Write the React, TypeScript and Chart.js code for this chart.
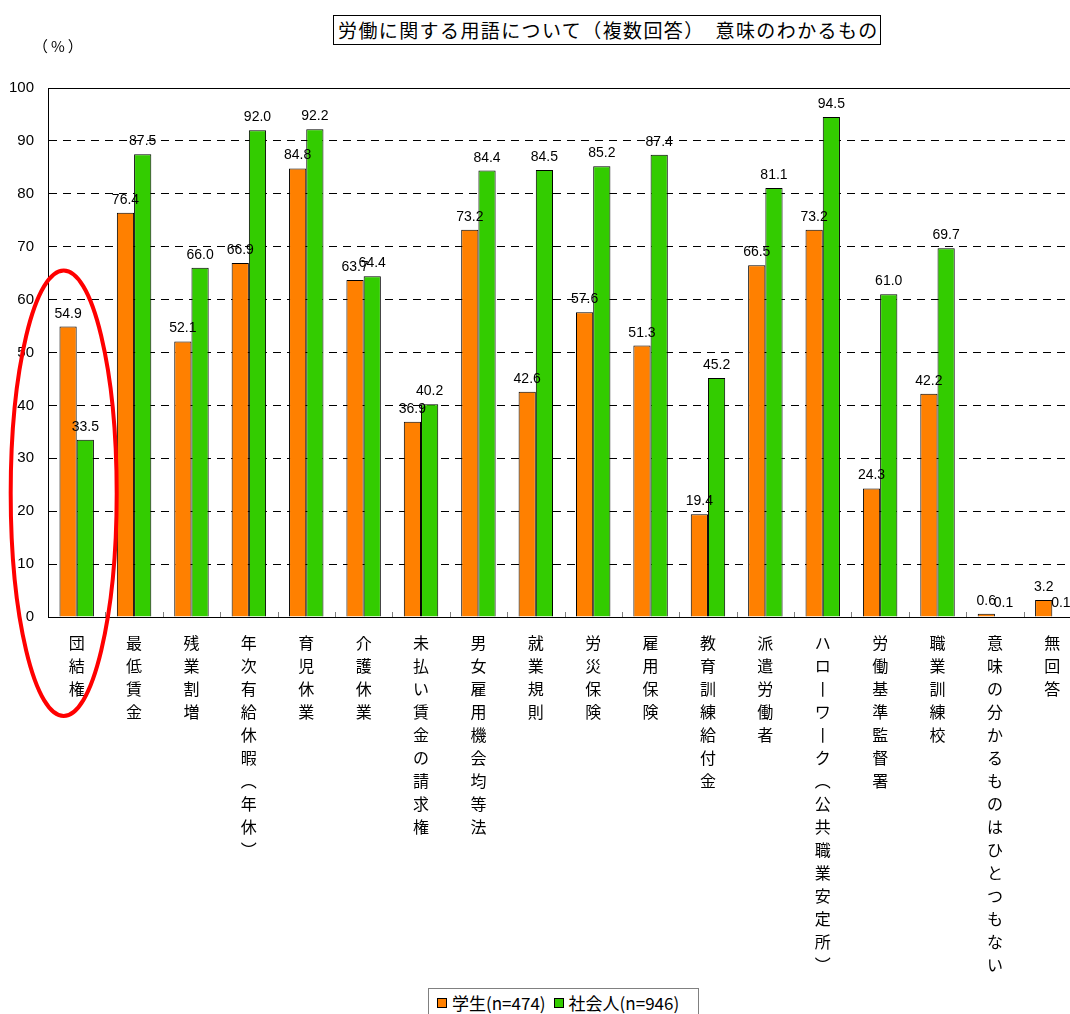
import React, { useEffect, useRef } from 'react';
import { Chart, registerables } from 'chart.js';

Chart.register(...registerables);

const categories: string[] = [
  '団結権',
  '最低賃金',
  '残業割増',
  '年次有給休暇（年休）',
  '育児休業',
  '介護休業',
  '未払い賃金の請求権',
  '男女雇用機会均等法',
  '就業規則',
  '労災保険',
  '雇用保険',
  '教育訓練給付金',
  '派遣労働者',
  'ハローワーク（公共職業安定所）',
  '労働基準監督署',
  '職業訓練校',
  '意味の分かるものはひとつもない',
  '無回答',
];

const students: number[] = [54.9, 76.4, 52.1, 66.9, 84.8, 63.7, 36.9, 73.2, 42.6, 57.6, 51.3, 19.4, 66.5, 73.2, 24.3, 42.2, 0.6, 3.2];
const workers: number[] = [33.5, 87.5, 66.0, 92.0, 92.2, 64.4, 40.2, 84.4, 84.5, 85.2, 87.4, 45.2, 81.1, 94.5, 61.0, 69.7, 0.1, 0.1];

const seriesNames: string[] = ['学生(n=474)', '社会人(n=946)'];
const seriesColors: string[] = ['#FF8000', '#33CC00'];

const titleText = '労働に関する用語について（複数回答）　意味のわかるもの';
const unitText = '（%）';

const yMin = 0;
const yMax = 100;
const yStep = 10;

const verticalMap: Record<string, string> = { '（': '︵', '）': '︶', 'ー': '丨' };
const toVertical = (s: string): string[] => Array.from(s).map((c) => verticalMap[c] ?? c);

const valueLabels = {
  id: 'valueLabels',
  afterDatasetsDraw(chart: any) {
    const ctx = chart.ctx;
    ctx.save();
    ctx.font = '14px "Liberation Sans", Arial, sans-serif';
    ctx.fillStyle = '#000';
    ctx.textAlign = 'center';
    ctx.textBaseline = 'alphabetic';
    chart.data.datasets.forEach((ds: any, di: number) => {
      const meta = chart.getDatasetMeta(di);
      meta.data.forEach((bar: any, i: number) => {
        const v = ds.data[i] as number;
        ctx.fillText(v.toFixed(1), bar.x, bar.y - 9);
      });
    });
    ctx.restore();
  },
};

const innerTicks = {
  id: 'innerTicks',
  afterDatasetsDraw(chart: any) {
    const ctx = chart.ctx;
    const xs = chart.scales.x;
    const ys = chart.scales.y;
    const y0 = ys.getPixelForValue(0);
    ctx.save();
    ctx.strokeStyle = '#808080';
    ctx.lineWidth = 1;
    ctx.beginPath();
    for (let k = 1; k < categories.length; k++) {
      const x = Math.round((xs.getPixelForValue(k) + xs.getPixelForValue(k - 1)) / 2) + 0.5;
      ctx.moveTo(x, y0);
      ctx.lineTo(x, y0 - 5);
    }
    ctx.stroke();
    ctx.restore();
  },
};

const highlight = {
  id: 'highlight',
  afterDraw(chart: any) {
    const ctx = chart.ctx;
    const xs = chart.scales.x;
    const ys = chart.scales.y;
    const cx = xs.getPixelForValue(0) - 13;
    const top = ys.getPixelForValue(65.5);
    const bottom = ys.getPixelForValue(0) + 99;
    ctx.save();
    ctx.strokeStyle = '#FF0000';
    ctx.lineWidth = 4;
    ctx.beginPath();
    ctx.ellipse(cx, (top + bottom) / 2, 53, (bottom - top) / 2, 0, 0, Math.PI * 2);
    ctx.stroke();
    ctx.restore();
  },
};

export default function App() {
  const canvasRef = useRef<HTMLCanvasElement | null>(null);

  useEffect(() => {
    if (!canvasRef.current) return;
    const chart = new Chart(canvasRef.current, {
      type: 'bar',
      data: {
        labels: categories.map(toVertical) as any,
        datasets: [
          {
            label: seriesNames[0],
            data: students,
            backgroundColor: seriesColors[0],
            borderColor: '#000',
            borderWidth: 1,
            categoryPercentage: 0.6,
            barPercentage: 1.0,
          },
          {
            label: seriesNames[1],
            data: workers,
            backgroundColor: seriesColors[1],
            borderColor: '#000',
            borderWidth: 1,
            categoryPercentage: 0.6,
            barPercentage: 1.0,
          },
        ],
      },
      options: {
        responsive: false,
        animation: false,
        devicePixelRatio: 1,
        layout: { padding: { top: 88, left: 0, right: 1, bottom: 0 } },
        plugins: {
          legend: { display: false },
          title: { display: false },
          tooltip: { enabled: false },
        },
        scales: {
          x: {
            grid: { display: false, drawTicks: false },
            border: { display: true, color: '#000', width: 1 },
            ticks: {
              autoSkip: false,
              maxRotation: 0,
              minRotation: 0,
              padding: 14,
              color: '#000',
              font: { family: '"Noto Sans CJK JP", sans-serif', size: 16, lineHeight: 1.44 },
            },
            afterFit: (s: any) => {
              s.height = 368;
            },
          },
          y: {
            min: yMin,
            max: yMax,
            grid: {
              drawTicks: false,
              color: '#000',
              lineWidth: 1,
            },
            border: {
              display: true,
              color: '#000',
              width: 1,
              dash: (c: any) => (c.tick && (c.tick.value === yMin || c.tick.value === yMax) ? [] : [8, 6]),
            },
            ticks: {
              stepSize: yStep,
              padding: 14,
              color: '#000',
              font: { family: '"Liberation Sans", Arial, sans-serif', size: 15 },
            },
            afterFit: (s: any) => {
              s.width = 48;
            },
          },
        },
      },
      plugins: [valueLabels, innerTicks, highlight],
    });
    return () => chart.destroy();
  }, []);

  const jp = '"Noto Sans CJK JP", sans-serif';

  return (
    <div
      style={{
        position: 'fixed',
        left: 0,
        top: 0,
        width: 1070,
        height: 1014,
        overflow: 'hidden',
        background: '#fff',
        fontFamily: jp,
        color: '#000',
      }}
    >
      <canvas ref={canvasRef} width={1082} height={985} style={{ position: 'absolute', left: 0, top: 0, width: 1082, height: 985 }} />
      <div
        style={{
          position: 'absolute',
          left: 33,
          top: 36,
          fontSize: 15,
          letterSpacing: 3,
          lineHeight: '20px',
          whiteSpace: 'nowrap',
        }}
      >
        {unitText}
      </div>
      <div
        style={{
          position: 'absolute',
          left: 333,
          top: 15,
          width: 548,
          height: 30,
          boxSizing: 'border-box',
          border: '1px solid #000',
          fontSize: 19,
          letterSpacing: 1.4,
          lineHeight: '28px',
          paddingLeft: 4,
          whiteSpace: 'nowrap',
          background: '#fff',
        }}
      >
        {titleText}
      </div>
      <div
        style={{
          position: 'absolute',
          left: 428,
          top: 988,
          width: 271,
          height: 32,
          boxSizing: 'border-box',
          border: '1px solid #808080',
          display: 'flex',
          alignItems: 'flex-start',
          paddingLeft: 8,
          paddingTop: 2,
          fontSize: 17,
          lineHeight: '24px',
          whiteSpace: 'nowrap',
          background: '#fff',
        }}
      >
        {seriesNames.map((name, i) => (
          <span key={name} style={{ display: 'flex', alignItems: 'center', marginRight: 8 }}>
            <span
              style={{
                display: 'inline-block',
                width: 10,
                height: 10,
                boxSizing: 'border-box',
                border: '1px solid #000',
                background: seriesColors[i],
                marginRight: 5,
              }}
            />
            {name}
          </span>
        ))}
      </div>
    </div>
  );
}
